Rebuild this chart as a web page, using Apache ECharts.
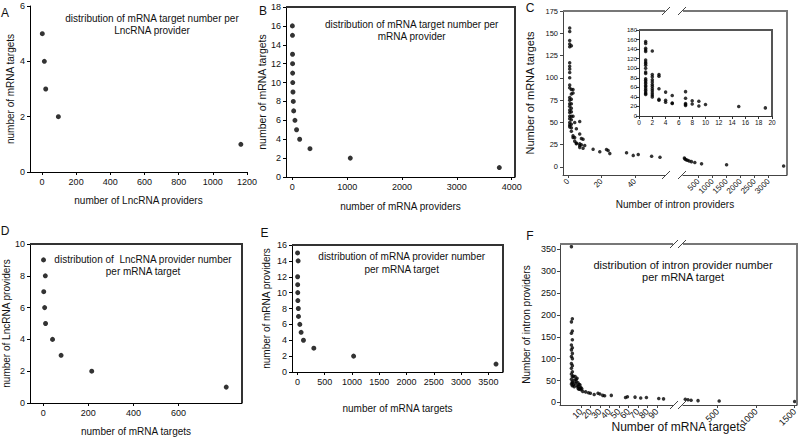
<!DOCTYPE html>
<html><head><meta charset="utf-8">
<script src="https://cdn.jsdelivr.net/npm/echarts@6/dist/echarts.min.js"></script>
<style>html,body{margin:0;padding:0;background:#fff}#c{width:800px;height:442px}</style>
</head><body><div id="c"></div>
<script>
// ---------- DATA ----------
const aData = [[2,5],[14,4],[22,3],[96,2],[1164,1]];
const bData = [[1,16],[3,15],[4,13],[5,12],[6,11],[8,10],[12,9],[18,8],[25,7],[48,6],[78,5],[134,4],[322,3],[1057,2],[3774,1]];
const cInsetX = [1,2,3,4,5,7,8,9,10,15,19];
const cInsetY = [
  [156,152,142,138,135,117,113,110,106,100,92,89,78,75,71,68,64,61,57,54,50,47,45],
  [136,87,82,76,71,66,62,57,53,48,44,40],
  [87,83,57,35,33],
  [50,33,29],
  [43,27,26],
  [51,37,26,24,22],
  [32,25],
  [31,21],
  [24],
  [20],
  [17]
];
const cLeftExtra = [[23,19.5],[24,18.5],[25,15],[35,16],[39,13],[42,14],[50,12],[55,11]];
const cRight = [[0,10],[20,9],[60,8],[110,7.5],[170,6.7],[250,6],[370,5],[610,3.5],[1500,2.5],[3530,1]];
const dData = [[1,9],[9,8],[2,7],[6,6],[10,5],[41,4],[79,3],[215,2],[812,1]];
const eData = [[2,15],[12,14],[3,12],[4,11],[5,10],[7,9],[16,8],[19,7],[43,6],[67,5],[110,4],[300,3],[1029,2],[3640,1]];
const fColumnY = [356,191,184,163,158,143,131,125,120,112,105,100,89,84,78,70,65,59,53,47,42];
const fCluster = [[2,40],[3,51],[4,43],[4,59],[5,47],[6,38],[6,55],[7,45],[7,36],[8,41],[7,32],[9,32],[10,34],[9,40],[8,30],[10,29],[11,31],[3,36],[5,52],[2,60],[1,45],[1,38]];
const fTail = [[12,25],[15,24],[18,22],[20,21],[24,18],[28,21],[30,19],[33,16],[35,15],[42,16],[57,11],[59,13],[67,12],[73,10],[79,11],[92,9],[97,8]];
const fRight = [[80,7],[115,6],[155,5],[245,4],[520,3],[1500,2]];

const aTicksX = [0,200,400,600,800,1000,1200], aTicksY = [0,2,4,6];
const bTicksX = [0,1000,2000,3000,4000], bTicksY = [0,2,4,6,8,10,12,14,16,18];
const cTicksXL = [0,20,40], cTicksXR = [500,1000,1500,2000,2500,3000], cTicksY = [0,25,50,75,100,125,150,175];
const insTicksX = [0,2,4,6,8,10,12,14,16,18,20], insTicksY = [0,20,40,60,80,100,120,140,160,180];
const dTicksX = [0,200,400,600], dTicksY = [0,2,4,6,8,10];
const eTicksX = [0,500,1000,1500,2000,2500,3000,3500], eTicksY = [0,2,4,6,8,10,12,14,16];
const fTicksXL = [0,10,20,30,40,50,60,70,80,90,100], fTicksXR = [500,1000,1500], fTicksY = [0,50,100,150,200,250,300,350];

// ---------- BUILD ----------
const FONT = 'Liberation Sans, Arial, sans-serif';
const INK = '#000', GRAY = '#444';
const grids = [], xAxes = [], yAxes = [], series = [], graphic = [];

function addGrid(l, t, w, h) {
  grids.push({left:l, top:t, width:w, height:h, containLabel:false, outerBoundsMode:'none', show:false});
  return grids.length - 1;
}
function mkAxis(g, min, max, ticks, o) {
  o = o || {};
  const col = o.color || INK;
  const ax = {
    type:'value', gridIndex:g, min:min, max:max, position:o.position,
    axisLine:{show:o.line !== false, onZero:false, lineStyle:{color:col, width:1}},
    axisTick:{show:!!ticks, inside:false, length:3, lineStyle:{color:col}},
    axisLabel:{show:!!ticks, fontSize:o.fs || 9, color:'#111', fontFamily:FONT, hideOverlap:false,
      margin:(o.margin != null ? o.margin : 5), rotate:o.rotate || 0, formatter:v => String(v)},
    splitLine:{show:false},
    name:o.name || '', nameLocation:'middle', nameGap:o.nameGap || 20,
    nameTextStyle:{fontSize:o.nfs || 10, color:'#111', fontFamily:FONT}
  };
  if (ticks) { ax.axisTick.customValues = ticks; ax.axisLabel.customValues = ticks; }
  return ax;
}
function addX(ax){ xAxes.push(ax); return xAxes.length - 1; }
function addY(ax){ yAxes.push(ax); return yAxes.length - 1; }
function addScatter(xi, yi, data, size) {
  series.push({type:'scatter', xAxisIndex:xi, yAxisIndex:yi, data:data, symbol:'circle', symbolSize:size,
    itemStyle:{color:INK}, silent:true, animation:false});
}
function txt(x, y, s, fs, align) {
  graphic.push({type:'text', x:x, y:y, silent:true, z:100,
    style:{text:s, fontSize:fs, fontFamily:FONT, fill:'#111', align:align || 'center', verticalAlign:'middle',
      textAlign:align || 'center', textVerticalAlign:'middle'}});
}
function poly(points, col, lw) {
  graphic.push({type:'polyline', silent:true, z:50, shape:{points:points},
    style:{stroke:col, lineWidth:lw || 1, fill:null}});
}
function slash(cx, cy, col) { poly([[cx - 4, cy + 4], [cx + 4, cy - 4]], col, 1); }
// top + right frame lines of a plotting box
function frameTR(l, t, w, h, col) {
  poly([[l, t], [l + w, t], [l + w, t + h]], col, 2);
}
function topLine(l, t, w, col) { poly([[l, t], [l + w, t + 0.01]], col, 2); }

// Panel A (no frame)
let g = addGrid(30, 6, 217, 166);
let xi = addX(mkAxis(g, -70, 1200, aTicksX, {name:'number of LncRNA providers', nameGap:23}));
let yi = addY(mkAxis(g, 0, 6, aTicksY, {name:'number of mRNA targets', nameGap:15}));
addScatter(xi, yi, aData, 5);

// Panel B
const B = {l:286, t:7, w:229, h:170};
g = addGrid(B.l, B.t, B.w, B.h);
xi = addX(mkAxis(g, -115, 4060, bTicksX, {name:'number of mRNA providers', nameGap:24}));
yi = addY(mkAxis(g, 0, 18, bTicksY, {name:'number of mRNA targets', nameGap:16, nfs:10.5}));
frameTR(B.l, B.t, B.w, B.h, '#333');
addScatter(xi, yi, bData, 5);

// Panel C main (broken x axis)
const cTop = 11, cH = 164;
const cL = {l:563, w:102}, cR = {l:683, w:104};
const cMainLeft = [];
cInsetX.forEach((x, i) => cInsetY[i].forEach(y => cMainLeft.push([x, y])));
cLeftExtra.forEach(p => cMainLeft.push(p));

g = addGrid(cL.l, cTop, cL.w, cH);
xi = addX(mkAxis(g, -3, 58, cTicksXL, {rotate:45, fs:8, color:GRAY, margin:5}));
yi = addY(mkAxis(g, -9, 175, cTicksY, {fs:7.5, color:GRAY, name:'Number of mRNA targets', nameGap:28, nfs:11}));
addScatter(xi, yi, cMainLeft, 3.5);

g = addGrid(cR.l, cTop, cR.w, cH);
xi = addX(mkAxis(g, -50, 3650, cTicksXR, {rotate:45, fs:8, color:GRAY, margin:5}));
yi = addY(mkAxis(g, -9, 175, null, {line:false}));
addScatter(xi, yi, cRight, 3.5);

topLine(cL.l, cTop, cL.w, '#777');
frameTR(cR.l, cTop, cR.w, cH, '#777');
[cTop, cTop + cH].forEach(y => { slash(cL.l + cL.w + 1, y, GRAY); slash(cR.l - 1, y, GRAY); });
txt((cL.l + cR.l + cR.w) / 2, 204, 'Number of intron providers', 10);

// Inset of C
const insetData = [];
cInsetX.forEach((x, i) => cInsetY[i].forEach(y => insetData.push([x, y])));
const IN = {l:639, t:30, w:133, h:86};
g = addGrid(IN.l, IN.t, IN.w, IN.h);
xi = addX(mkAxis(g, 0, 20, insTicksX, {fs:6.5, margin:3, color:'#333'}));
yi = addY(mkAxis(g, 0, 180, insTicksY, {fs:6, margin:2, color:'#333'}));
frameTR(IN.l, IN.t, IN.w, IN.h, '#555');
addScatter(xi, yi, insetData, 3.5);

// Panel D
const D = {l:30, t:244, w:212, h:159};
g = addGrid(D.l, D.t, D.w, D.h);
xi = addX(mkAxis(g, -59, 882, dTicksX, {name:'number of mRNA targets', nameGap:23}));
yi = addY(mkAxis(g, 0, 10, dTicksY, {name:'number of LncRNA providers', nameGap:14}));
frameTR(D.l, D.t, D.w, D.h, '#333');
addScatter(xi, yi, dData, 5);

// Panel E
const E = {l:292, t:245, w:211, h:127};
g = addGrid(E.l, E.t, E.w, E.h);
xi = addX(mkAxis(g, -100, 3768, eTicksX, {name:'number of mRNA targets', nameGap:31}));
yi = addY(mkAxis(g, 0, 16, eTicksY, {name:'number of mRNA providers', nameGap:21}));
frameTR(E.l, E.t, E.w, E.h, '#333');
addScatter(xi, yi, eData, 5);

// Panel F (broken x axis)
const fTop = 244, fH = 161;
const fL = {l:560, w:113}, fR = {l:683, w:114};
const fLeft = [];
fColumnY.forEach((y, i) => fLeft.push([i % 2, y]));
fCluster.forEach(p => fLeft.push(p));
fTail.forEach(p => fLeft.push(p));

g = addGrid(fL.l, fTop, fL.w, fH);
xi = addX(mkAxis(g, -12, 107, fTicksXL, {rotate:45, fs:9, color:GRAY, margin:5}));
yi = addY(mkAxis(g, -6, 362, fTicksY, {fs:9, color:GRAY, margin:4, name:'Number of intron providers', nameGap:29}));
addScatter(xi, yi, fLeft, 3.5);

g = addGrid(fR.l, fTop, fR.w, fH);
xi = addX(mkAxis(g, 50, 1531, fTicksXR, {rotate:45, fs:9, color:GRAY, margin:5}));
yi = addY(mkAxis(g, -6, 362, null, {line:false}));
addScatter(xi, yi, fRight, 3.5);

topLine(fL.l, fTop, fL.w, '#777');
frameTR(fR.l, fTop, fR.w, fH, '#777');
[fTop, fTop + fH].forEach(y => { slash(fL.l + fL.w + 1, y, GRAY); slash(fR.l - 1, y, GRAY); });
txt((fL.l + fR.l + fR.w) / 2, 426.7, 'Number of mRNA targets', 12);

// Panel titles
txt(152, 18.3, 'distribution of mRNA target number per', 10);
txt(152, 30.5, 'LncRNA provider', 10);
txt(411.7, 24, 'distribution of mRNA target number per', 10);
txt(411.7, 36, 'mRNA provider', 10);
txt(143, 259, 'distribution of  LncRNA provider number', 10);
txt(143, 271.7, 'per mRNA target', 10);
txt(401.7, 256.7, 'distribution of mRNA provider number', 10);
txt(401.7, 269, 'per mRNA target', 10);
txt(683, 265, 'distribution of intron provider number', 11);
txt(683, 277.3, 'per mRNA target', 11);

// Panel letters
txt(5, 12.5, 'A', 12);
txt(263, 10.5, 'B', 12);
txt(530, 8, 'C', 12);
txt(5, 231, 'D', 12);
txt(264.5, 232.5, 'E', 12);
txt(530, 236, 'F', 12);

const chart = echarts.init(document.getElementById('c'), null, {renderer:'svg', width:800, height:442});
chart.setOption({
  animation:false,
  backgroundColor:'#fff',
  grid:grids, xAxis:xAxes, yAxis:yAxes, series:series, graphic:graphic
});
</script></body></html>
